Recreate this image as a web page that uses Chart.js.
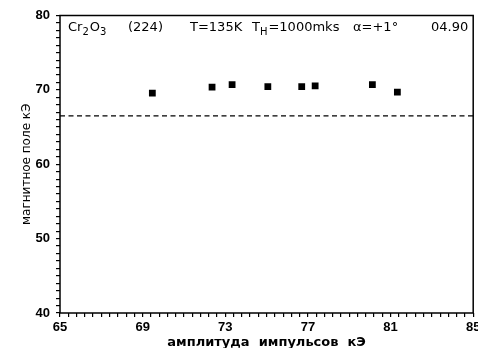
<!DOCTYPE html>
<html>
<head>
<meta charset="utf-8">
<script src="https://cdn.jsdelivr.net/npm/chart.js@4.4.1/dist/chart.umd.min.js"></script>
<style>
  html, body { margin: 0; padding: 0; background: #fff; }
  #marco { width: 478px; height: 348px; }
</style>
</head>
<body>
<div id="marco"><canvas id="grafico"></canvas></div>
<script>
// datos
const amplitud = [69.47, 72.36, 73.33, 75.06, 76.70, 77.35, 80.12, 81.33];
const campo    = [69.56, 70.36, 70.71, 70.44, 70.44, 70.54, 70.71, 69.70];
const lineaX   = [65, 85];
const lineaY   = [66.5, 66.5];
const rotulos  = ['Cr_2O_3', '(224)', 'T=135K', 'T_H=1000mks', 'α=+1°', '04.90'];
const tituloX  = 'амплитуда  импульсов  кЭ';
const tituloY  = 'магнитное поле кЭ';

const negro = '#000';

// escribe un texto con subindices marcados como _X
function textoConSub(ctx, txt, x, y, tam) {
    let i = 0;
    while (i < txt.length) {
        if (txt[i] === '_') {
            ctx.font = (tam - 3) + 'px "DejaVu Sans"';
            ctx.fillText(txt[i + 1], x, y + 4);
            x += ctx.measureText(txt[i + 1]).width + 1;
            i += 2;
        } else {
            ctx.font = tam + 'px "DejaVu Sans"';
            ctx.fillText(txt[i], x, y);
            x += ctx.measureText(txt[i]).width;
            i += 1;
        }
    }
}

const marcoYTexto = {
    id: 'marcoYTexto',
    afterDraw(chart) {
        const ctx = chart.ctx;
        const a = chart.chartArea;
        ctx.save();
        ctx.strokeStyle = negro;
        ctx.lineWidth = 1.5;
        ctx.strokeRect(a.left, a.top, a.right - a.left, a.bottom - a.top);

        ctx.fillStyle = negro;
        ctx.textBaseline = 'alphabetic';
        const desp = [8, 68, 130, 192, 293];
        const base = a.top + 15;
        for (let i = 0; i < desp.length; i++) {
            textoConSub(ctx, rotulos[i], a.left + desp[i], base, 13);
        }
        ctx.font = '13px "DejaVu Sans"';
        ctx.textAlign = 'right';
        ctx.fillText(rotulos[5], a.right - 5, base);
        ctx.restore();
    }
};

function marcaCada(valor, inicio, paso) {
    const v = Math.round(valor * 10) / 10;
    const k = (v - inicio) / paso;
    return Math.abs(k - Math.round(k)) < 1e-6 ? String(v) : '';
}

new Chart(document.getElementById('grafico'), {
    type: 'scatter',
    data: {
        datasets: [{
            data: amplitud.map((x, i) => ({ x: x, y: campo[i] })),
            pointStyle: 'rect',
            pointRadius: 4.8,
            backgroundColor: negro,
            borderColor: negro,
            borderWidth: 0
        }, {
            type: 'line',
            data: lineaX.map((x, i) => ({ x: x, y: lineaY[i] })),
            borderColor: negro,
            borderWidth: 1.4,
            borderDash: [5, 3.5],
            pointRadius: 0,
            fill: false
        }]
    },
    options: {
        responsive: true,
        maintainAspectRatio: false,
        animation: false,
        layout: { padding: { top: 15.5, right: 3, left: 20, bottom: -2 } },
        plugins: {
            legend: { display: false },
            tooltip: { enabled: false }
        },
        scales: {
            x: {
                type: 'linear',
                min: 65,
                max: 85,
                afterFit(scale) {
                    scale.height = 37;
                    scale.paddingLeft = 0;
                    scale.paddingRight = 0;
                },
                border: { display: false },
                grid: { drawOnChartArea: false, tickLength: 4, color: negro, lineWidth: 1.2 },
                ticks: {
                    stepSize: 0.4,
                    maxTicksLimit: 100,
                    autoSkip: false,
                    maxRotation: 0,
                    padding: 3,
                    color: negro,
                    font: { family: '"Liberation Sans"', size: 13, weight: 'bold' },
                    callback: (v) => marcaCada(v, 65, 4)
                },
                title: {
                    display: true,
                    text: tituloX,
                    color: negro,
                    padding: 0,
                    font: { family: '"DejaVu Sans"', size: 13, weight: 'bold' }
                }
            },
            y: {
                min: 40,
                max: 80,
                afterFit(scale) {
                    scale.width = 40;
                    scale.paddingTop = 0;
                    scale.paddingBottom = 0;
                },
                border: { display: false },
                grid: { drawOnChartArea: false, tickLength: 4, color: negro, lineWidth: 1.2 },
                ticks: {
                    stepSize: 1,
                    maxTicksLimit: 100,
                    autoSkip: false,
                    padding: 6,
                    color: negro,
                    font: { family: '"Liberation Sans"', size: 13, weight: 'bold' },
                    callback: (v) => marcaCada(v, 40, 10)
                },
                title: {
                    display: true,
                    text: tituloY,
                    color: negro,
                    padding: 0,
                    font: { family: '"DejaVu Sans"', size: 12 }
                }
            }
        }
    },
    plugins: [marcoYTexto]
});
</script>
</body>
</html>
